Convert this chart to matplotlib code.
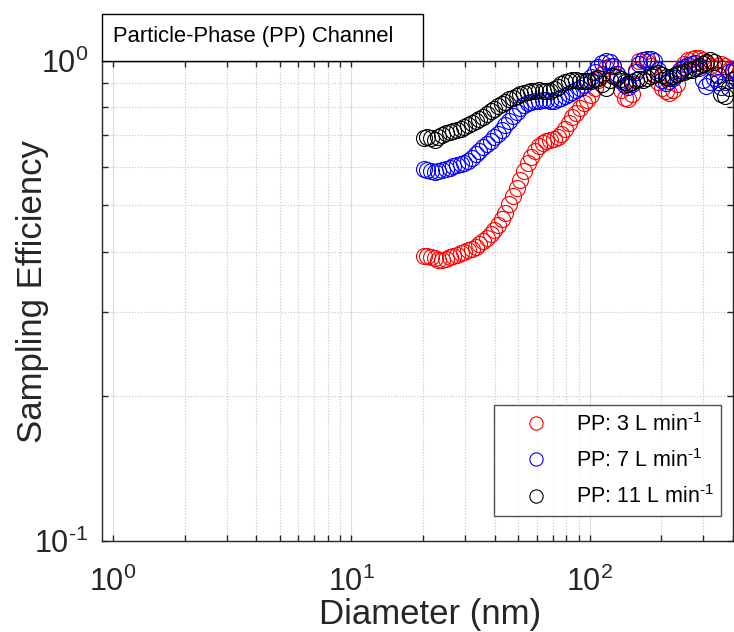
import matplotlib

matplotlib.use("Agg")
import matplotlib.pyplot as plt
from matplotlib.patches import Rectangle
from matplotlib.ticker import FixedFormatter, FixedLocator, NullFormatter

plt.rcParams["font.family"] = ["Liberation Sans", "DejaVu Sans"]
plt.rcParams["mathtext.fontset"] = "custom"
plt.rcParams["mathtext.rm"] = "Liberation Sans"
plt.rcParams["mathtext.it"] = "Liberation Sans:italic"
plt.rcParams["mathtext.bf"] = "Liberation Sans:bold"

# mobility diameter bins (nm)
diameter = [
    20.1, 20.84, 21.60, 22.39, 23.21, 24.06, 24.94, 25.85, 26.80, 27.78,
    28.80, 29.85, 30.95, 32.08, 33.26, 34.47, 35.74, 37.05, 38.40, 39.81,
    41.27, 42.78, 44.35, 45.97, 47.66, 49.40, 51.21, 53.09, 55.04, 57.05,
    59.14, 61.31, 63.56, 65.89, 68.30, 70.80, 73.40, 76.09, 78.87, 81.76,
    84.76, 87.86, 91.08, 94.42, 97.88, 101.5, 105.2, 109.0, 113.0, 117.2,
    121.5, 125.9, 130.5, 135.3, 140.3, 145.4, 150.7, 156.3, 162.0, 167.9,
    174.1, 180.5, 187.1, 193.9, 201.0, 208.4, 216.0, 223.9, 232.1, 240.6,
    249.4, 258.6, 268.0, 277.9, 288.0, 298.6, 309.5, 320.9, 332.6, 344.8,
    357.4, 370.5, 384.1, 398.2, 412.8,
]

eff_3lpm = [
    0.391, 0.392, 0.390, 0.388, 0.385, 0.384, 0.387, 0.389, 0.392, 0.394,
    0.397, 0.399, 0.403, 0.406, 0.410, 0.416, 0.422, 0.428, 0.436, 0.443,
    0.455, 0.468, 0.482, 0.503, 0.523, 0.543, 0.564, 0.589, 0.612, 0.630,
    0.647, 0.663, 0.674, 0.680, 0.684, 0.687, 0.692, 0.704, 0.721, 0.742,
    0.762, 0.778, 0.795, 0.816, 0.830, 0.848, 0.877, 0.912, 0.938, 0.966,
    0.975, 0.975, 0.938, 0.869, 0.836, 0.832, 0.852, 0.956, 0.999, 1.003,
    0.994, 0.975, 0.934, 0.903, 0.877, 0.865, 0.857, 0.869, 0.894, 0.947,
    0.984, 1.003, 1.008, 1.013, 1.013, 1.003, 0.989, 0.975, 0.966, 0.975,
    0.984, 0.975, 0.956, 0.947, 0.956,
]

eff_7lpm = [
    0.596, 0.592, 0.588, 0.586, 0.589, 0.592, 0.596, 0.599, 0.602, 0.605,
    0.608, 0.612, 0.618, 0.627, 0.639, 0.649, 0.661, 0.671, 0.680, 0.693,
    0.704, 0.717, 0.735, 0.749, 0.767, 0.782, 0.797, 0.809, 0.816, 0.820,
    0.824, 0.826, 0.828, 0.828, 0.824, 0.826, 0.832, 0.838, 0.844, 0.852,
    0.861, 0.869, 0.877, 0.890, 0.907, 0.925, 0.947, 0.970, 0.989, 0.999,
    0.994, 0.975, 0.938, 0.907, 0.890, 0.882, 0.894, 0.947, 0.984, 1.003,
    1.008, 1.008, 0.999, 0.956, 0.912, 0.899, 0.907, 0.920, 0.938, 0.956,
    0.970, 0.980, 0.984, 0.989, 0.966, 0.912, 0.886, 0.903, 0.920, 0.903,
    0.882, 0.903, 0.947, 0.956, 0.956,
]

eff_11lpm = [
    0.690, 0.693, 0.690, 0.685, 0.692, 0.700, 0.707, 0.710, 0.714, 0.717,
    0.722, 0.728, 0.735, 0.742, 0.747, 0.756, 0.765, 0.774, 0.784, 0.793,
    0.805, 0.812, 0.822, 0.832, 0.838, 0.844, 0.852, 0.857, 0.861, 0.863,
    0.865, 0.867, 0.865, 0.863, 0.865, 0.873, 0.882, 0.894, 0.903, 0.907,
    0.912, 0.912, 0.909, 0.907, 0.905, 0.907, 0.916, 0.920, 0.894, 0.877,
    0.912, 0.929, 0.925, 0.916, 0.903, 0.894, 0.903, 0.912, 0.916, 0.912,
    0.920, 0.929, 0.938, 0.943, 0.934, 0.925, 0.920, 0.929, 0.938, 0.943,
    0.947, 0.956, 0.956, 0.966, 0.975, 0.984, 0.994, 1.003, 0.994, 0.934,
    0.852, 0.844, 0.877, 0.912, 0.920,
]

x_ticks = [1, 10, 100]
x_ticklabels = ["10$^{0}$", "10$^{1}$", "10$^{2}$"]
y_ticks = [0.1, 1.0]
y_ticklabels = [r"10$^{\text{-}1}$", "10$^{0}$"]

series = [
    (r"PP: 3 L min$^{\text{-}1}$", eff_3lpm, "#ff0000"),
    (r"PP: 7 L min$^{\text{-}1}$", eff_7lpm, "#0000ff"),
    (r"PP: 11 L min$^{\text{-}1}$", eff_11lpm, "#000000"),
]

AX_COLOR = "#262626"

fig = plt.figure(figsize=(7.34, 6.32), dpi=100, facecolor="white")
ax = fig.add_axes([0.139, 0.1445, 0.8597, 0.7595])

for label, values, color in series:
    ax.plot(
        diameter, values, linestyle="none", marker="o", markersize=11.5,
        markerfacecolor="none", markeredgecolor=color, markeredgewidth=0.8,
        label=label, clip_on=False, zorder=3,
    )

ax.set_xscale("log")
ax.set_yscale("log")
ax.set_xlim(0.9, 400)
ax.set_ylim(0.1, 1.0)

ax.xaxis.set_major_locator(FixedLocator(x_ticks))
ax.xaxis.set_major_formatter(FixedFormatter(x_ticklabels))
ax.xaxis.set_minor_locator(FixedLocator([m * 10 ** e for e in range(0, 3) for m in range(2, 10)]))
ax.yaxis.set_major_locator(FixedLocator(y_ticks))
ax.yaxis.set_major_formatter(FixedFormatter(y_ticklabels))
ax.yaxis.set_minor_locator(FixedLocator([m / 10 for m in range(2, 10)]))
ax.xaxis.set_minor_formatter(NullFormatter())
ax.yaxis.set_minor_formatter(NullFormatter())

ax.grid(which="major", color="#dcdcdc", linestyle="-", linewidth=0.8)
ax.grid(which="minor", color="#c4c4c4", linestyle=":", linewidth=0.8)
ax.set_axisbelow(True)

ax.tick_params(which="both", direction="in", top=True, right=True, colors=AX_COLOR, width=1.0)
ax.tick_params(which="major", length=4.5, labelsize=22)
ax.tick_params(axis="x", which="major", pad=19)
ax.tick_params(axis="y", which="major", pad=10)
ax.tick_params(which="minor", length=4)
for spine in ax.spines.values():
    spine.set_color(AX_COLOR)
    spine.set_linewidth(1.0)

ax.set_xlabel("Diameter (nm)", fontsize=25, color=AX_COLOR)
ax.set_ylabel("Sampling Efficiency", fontsize=25, color=AX_COLOR)
ax.xaxis.set_label_coords(0.52, -0.12)
ax.yaxis.set_label_coords(-0.084, 0.519)

leg = ax.legend(
    loc="lower right", bbox_to_anchor=(0.9815, 0.052), borderaxespad=0,
    fontsize=15.5, frameon=True, fancybox=False, edgecolor="#262626",
    handlelength=3.15, handletextpad=0.3, borderpad=0.35, labelspacing=0.62,
    markerscale=0.83,
)
leg.get_frame().set_linewidth(1.0)

# title box above the axes
fig.patches.append(
    Rectangle((0.139, 0.904), 0.4373, 0.0739, transform=fig.transFigure,
              facecolor="white", edgecolor="black", linewidth=1.0)
)
fig.text(0.154, 0.9415, "Particle-Phase (PP) Channel", fontsize=15.8,
         ha="left", va="center", color="black")

fig.savefig("out.png", dpi=100, facecolor="white")
